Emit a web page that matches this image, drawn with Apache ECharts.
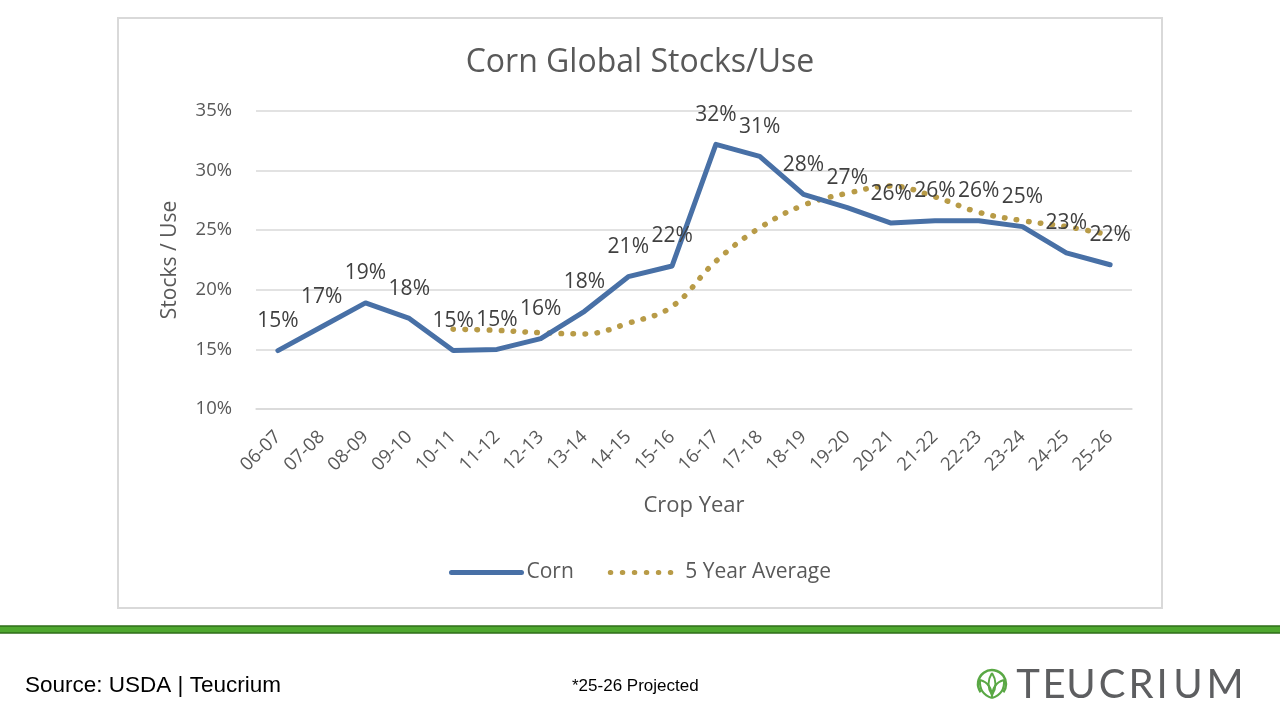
<!DOCTYPE html>
<html>
<head>
<meta charset="utf-8">
<script src="https://cdn.jsdelivr.net/npm/echarts@6/dist/echarts.min.js"></script>
<style>
  html, body { margin: 0; padding: 0; background: #fff; }
  #main { width: 1280px; height: 720px; }
</style>
</head>
<body>
<div id="main"></div>
<script>
// crop years on the x axis
var cropYears = ['06-07', '07-08', '08-09', '09-10', '10-11', '11-12', '12-13', '13-14', '14-15', '15-16',
                 '16-17', '17-18', '18-19', '19-20', '20-21', '21-22', '22-23', '23-24', '24-25', '25-26'];
// stocks/use, percent
var cornValues = [14.9, 16.9, 18.9, 17.6, 14.9, 15.0, 15.9, 18.2, 21.1, 22.0,
                  32.2, 31.2, 28.0, 26.9, 25.6, 25.8, 25.8, 25.3, 23.1, 22.1];
// 5 year average starts at 10-11
var avgValues = ['-', '-', '-', '-', 16.7, 16.6, 16.4, 16.3, 17.2, 18.6,
                 22.4, 25.2, 27.1, 28.1, 28.7, 27.8, 26.5, 25.8, 25.3, 24.6];
var yTicks = [10, 35, 5]; // min, max, step

var chart = echarts.init(document.getElementById('main'));
var font = '"Open Sans", "Noto Sans", sans-serif';
var grey = '#595959';
var leafGreen = '#5aa845';

// logo letters, centred on the spots they take in the wordmark
var logo = 'TEUCRIUM';
var logoX = [1028, 1054, 1081, 1112, 1141, 1162, 1188, 1225];
var logoGraphics = [];
for (var i = 0; i < logo.length; i++) {
  logoGraphics.push({
    type: 'text', x: logoX[i], y: 685,
    style: { text: logo[i], fill: '#5d5e60', font: '400 40px Lato, sans-serif',
             textAlign: 'center', textVerticalAlign: 'middle' }
  });
}

// leaf outline made of two curves
function leaf(x1, y1, x2, y2, c1x, c1y, c2x, c2y) {
  return [
    { type: 'bezierCurve', shape: { x1: x1, y1: y1, x2: x2, y2: y2, cpx1: c1x, cpy1: c1y },
      style: { stroke: leafGreen, lineWidth: 2, fill: 'none' } },
    { type: 'bezierCurve', shape: { x1: x1, y1: y1, x2: x2, y2: y2, cpx1: c2x, cpy1: c2y },
      style: { stroke: leafGreen, lineWidth: 2, fill: 'none' } }
  ];
}
var iconGraphics = [
  { type: 'arc', shape: { cx: 992, cy: 684, r: 14, startAngle: Math.PI * 0.8, endAngle: Math.PI * 2.2 },
    style: { stroke: leafGreen, fill: 'none', lineWidth: 2.5 } }
].concat(leaf(992, 698, 980, 680, 979, 694, 992, 683))
 .concat(leaf(992, 698, 1004, 680, 1005, 694, 992, 683))
 .concat(leaf(992, 695, 992, 673, 985, 684, 999, 684));

var option = {
  backgroundColor: '#fff',
  animation: false,
  title: {
    text: 'Corn Global Stocks/Use',
    left: 'center', top: 42,
    textStyle: { fontFamily: font, fontSize: 32, fontWeight: 'normal', color: grey }
  },
  legend: {
    top: 557, left: 'center',
    itemWidth: 70, itemHeight: 14, itemGap: 34,
    itemStyle: { opacity: 0 },
    lineStyle: { width: 5, cap: 'round' },
    textStyle: { fontFamily: font, fontSize: 21, color: grey },
    data: ['Corn', '5 Year Average']
  },
  grid: { left: 256, right: 148, top: 111, bottom: 311, containLabel: false },
  xAxis: {
    type: 'category',
    data: cropYears,
    boundaryGap: true,
    name: 'Crop Year',
    nameLocation: 'middle',
    nameGap: 86,
    nameTextStyle: { fontFamily: font, fontSize: 22, color: grey },
    axisLine: { show: true, lineStyle: { color: '#d9d9d9', width: 1.5 } },
    axisTick: { show: false },
    axisLabel: { rotate: 45, fontFamily: font, fontSize: 18.5, color: grey, margin: 25, interval: 0 }
  },
  yAxis: {
    type: 'value',
    min: yTicks[0], max: yTicks[1], interval: yTicks[2],
    name: 'Stocks / Use',
    nameLocation: 'middle',
    nameGap: 75,
    nameTextStyle: { fontFamily: font, fontSize: 21, color: grey },
    axisLine: { show: false },
    axisTick: { show: false },
    splitLine: { lineStyle: { color: '#d9d9d9', width: 1.5 } },
    axisLabel: { formatter: '{value}%', fontFamily: font, fontSize: 18.5, color: grey, margin: 24 }
  },
  series: [
    {
      name: 'Corn',
      type: 'line',
      data: cornValues,
      symbol: 'circle',
      symbolSize: 0,
      showSymbol: true,
      lineStyle: { color: '#4870a6', width: 5, cap: 'round', join: 'round' },
      itemStyle: { color: '#4870a6' },
      label: {
        show: true, position: 'top', distance: 19,
        fontFamily: font, fontSize: 21, color: '#404040',
        formatter: function (p) { return Math.round(p.value) + '%'; }
      },
      z: 3
    },
    {
      name: '5 Year Average',
      type: 'line',
      data: avgValues,
      smooth: 0.4,
      symbol: 'none',
      lineStyle: { color: '#b89b47', width: 5.5, type: [0.5, 11.5], cap: 'round' },
      itemStyle: { color: '#b89b47' },
      z: 2
    }
  ],
  graphic: [
    { type: 'rect', shape: { x: 118, y: 18, width: 1044, height: 590 },
      style: { fill: 'none', stroke: '#d9d9d9', lineWidth: 2 }, z: -1 },
    { type: 'rect', shape: { x: -2, y: 626, width: 1284, height: 7 },
      style: { fill: '#4ea72e', stroke: '#2f6e1a', lineWidth: 1.5 } },
    { type: 'text', x: 25, y: 686,
      style: { text: 'Source: USDA | Teucrium', fill: '#000', font: '22.5px "Liberation Sans", Arial, sans-serif',
               textVerticalAlign: 'middle' } },
    { type: 'text', x: 572, y: 686,
      style: { text: '*25-26 Projected', fill: '#000', font: '17px "Liberation Sans", Arial, sans-serif',
               textVerticalAlign: 'middle' } }
  ].concat(iconGraphics).concat(logoGraphics)
};

chart.setOption(option);
</script>
</body>
</html>
